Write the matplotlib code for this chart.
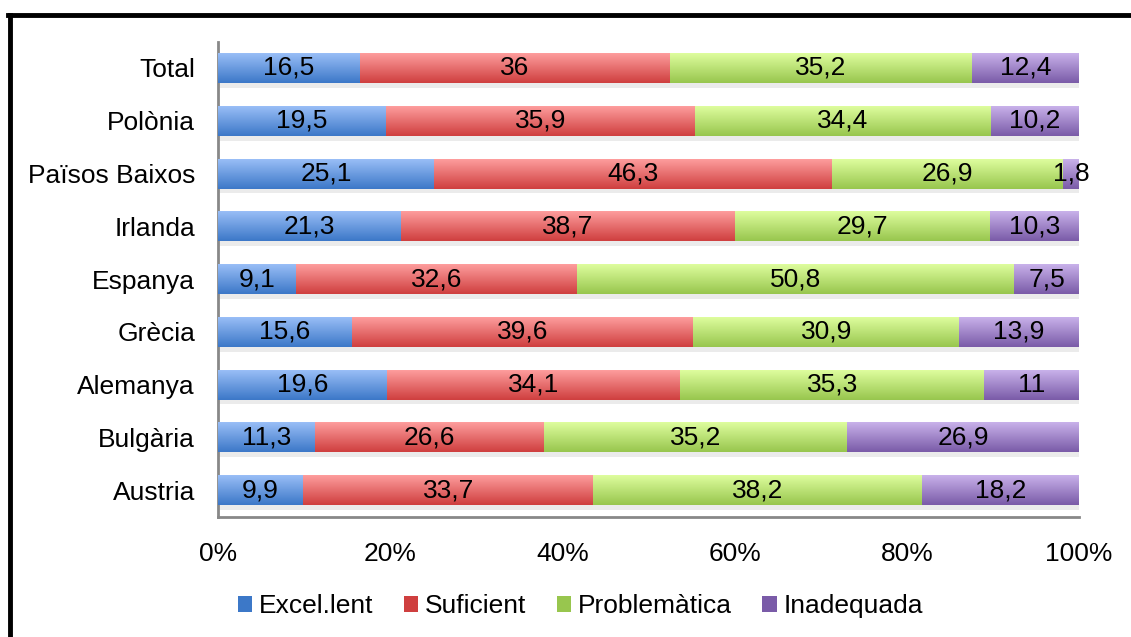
import numpy as np
import matplotlib
matplotlib.use("Agg")
import matplotlib.pyplot as plt
from matplotlib.colors import LinearSegmentedColormap
from matplotlib.lines import Line2D
from matplotlib.patches import Patch

plt.rcParams['font.family'] = ['Liberation Sans', 'DejaVu Sans']

countries = ["Total", "Polònia", "Països Baixos", "Irlanda", "Espanya",
             "Grècia", "Alemanya", "Bulgària", "Austria"]
series = ["Excel.lent", "Suficient", "Problemàtica", "Inadequada"]
excel = [16.5, 19.5, 25.1, 21.3, 9.1, 15.6, 19.6, 11.3, 9.9]
sufic = [36, 35.9, 46.3, 38.7, 32.6, 39.6, 34.1, 26.6, 33.7]
probl = [35.2, 34.4, 26.9, 29.7, 50.8, 30.9, 35.3, 35.2, 38.2]
inade = [12.4, 10.2, 1.8, 10.3, 7.5, 13.9, 11, 26.9, 18.2]

# (top colour, bottom colour) for the gradient fill
grads = [("#9cc0f8", "#3c78c8"),
         ("#ffa0a0", "#cf3f3f"),
         ("#e0ffa0", "#98c64e"),
         ("#cbb4ec", "#7a5ba8")]

FS = 19

fig = plt.figure(figsize=(11.31, 6.37), dpi=100)
ax = fig.add_axes([0.1927, 0.189, 0.7613, 0.7457])

data = np.array([excel, sufic, probl, inade])
totals = data.sum(axis=0)
y = np.arange(len(countries))
left = np.zeros(len(countries))
h = 0.57
grad = np.linspace(1, 0, 64).reshape(-1, 1)

for k, name in enumerate(series):
    pct = data[k] / totals * 100
    # soft shadow under each bar
    ax.barh(y + 0.09, pct, h, left=left, color="#000000", alpha=0.08,
            linewidth=0, zorder=1)
    bars = ax.barh(y, pct, h, left=left, color=grads[k][1], linewidth=0,
                   zorder=2, label=name)
    cmap = LinearSegmentedColormap.from_list("g%d" % k, [grads[k][1], grads[k][0]])
    for b in bars:
        x0, y0 = b.get_x(), b.get_y()
        im = ax.imshow(grad, cmap=cmap, aspect="auto", zorder=3,
                       extent=[x0, x0 + b.get_width(), y0 + b.get_height(), y0],
                       interpolation="bicubic", vmin=0, vmax=1)
        im.set_clip_path(b)
    for i, v in enumerate(data[k]):
        ax.text(left[i] + pct[i] / 2, y[i], ("%g" % v).replace(".", ","),
                ha="center", va="center", fontsize=FS, zorder=5)
    left += pct

ax.set_xlim(0, 100)
ax.set_ylim(len(countries) - 0.5, -0.5)
ax.set_yticks(y)
ax.set_yticklabels(countries, fontsize=FS)
ax.set_xticks(np.arange(0, 101, 20))
ax.set_xticklabels(["%d%%" % t for t in range(0, 101, 20)], fontsize=FS)
ax.tick_params(length=0, pad=18, axis="x")
ax.tick_params(length=0, pad=16.5, axis="y")
for s in ["top", "right"]:
    ax.spines[s].set_visible(False)
for s in ["left", "bottom"]:
    ax.spines[s].set_color("#888888")
    ax.spines[s].set_linewidth(2)

handles = [Patch(facecolor=grads[k][1], label=series[k]) for k in range(4)]
fig.legend(handles=handles, loc="center", bbox_to_anchor=(0.513, 0.048),
           ncol=4, frameon=False, fontsize=FS, handlelength=0.55,
           handleheight=0.55, handletextpad=0.25, columnspacing=1.15)

# outer chart frame (cut off at right and bottom)
fig.add_artist(Line2D([10 / 1131, 10 / 1131], [0, 1 - 15 / 637],
                      transform=fig.transFigure, color="black", linewidth=3.5))
fig.add_artist(Line2D([8 / 1131, 1], [1 - 15 / 637, 1 - 15 / 637],
                      transform=fig.transFigure, color="black", linewidth=3.5))

fig.savefig("out.png", dpi=100)
